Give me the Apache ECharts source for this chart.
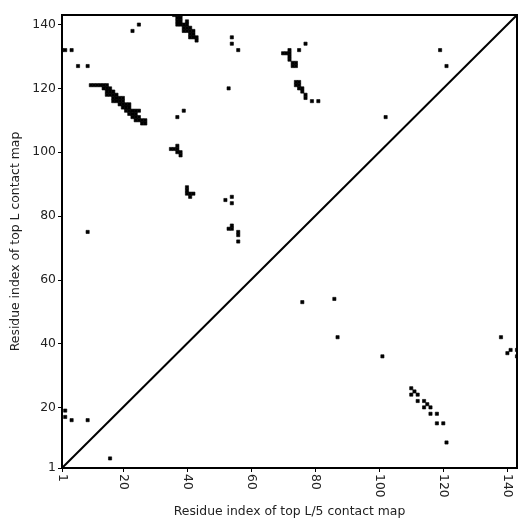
<!DOCTYPE html>
<html>
<head>
<meta charset="utf-8">
<script src="https://cdn.jsdelivr.net/npm/echarts@6/dist/echarts.min.js"></script>
<style>html,body{margin:0;padding:0;background:#fff}#c{width:531px;height:531px}</style>
</head>
<body>
<div id="c"></div>
<script>
// Axis extent and ticks
const axisMin = 1;
const axisMax = 143;
const tickValues = [1, 20, 40, 60, 80, 100, 120, 140];
const diagonal = [[1, 1], [143, 143]];

// Top L contacts (upper-left triangle), [x, y]
const topLContacts = [
  [1,132],[2,132],[4,132],[6,127],[9,127],
  [10,121],[11,121],[12,121],[13,121],[14,121],[15,121],
  [14,120],[15,120],[16,120],
  [15,119],[16,119],[17,119],
  [15,118],[16,118],[17,118],[18,118],
  [17,117],[18,117],[19,117],[20,117],
  [17,116],[18,116],[19,116],[20,116],
  [19,115],[20,115],[21,115],[22,115],
  [20,114],[21,114],[22,114],
  [21,113],[22,113],[23,113],[24,113],[25,113],
  [22,112],[23,112],[24,112],
  [23,111],[24,111],[25,111],
  [24,110],[25,110],[26,110],[27,110],
  [26,109],[27,109],
  [23,138],[25,140],
  [36,143],[37,143],[38,143],
  [37,142],[38,142],
  [37,141],[38,141],[40,141],
  [37,140],[38,140],[39,140],[40,140],
  [39,139],[40,139],[41,139],
  [39,138],[40,138],[41,138],[42,138],
  [41,137],[42,137],
  [41,136],[42,136],[43,136],
  [43,135],
  [54,136],[54,134],[56,132],[53,120],[39,113],[37,111],
  [37,102],[35,101],[36,101],[37,101],[37,100],[38,100],[38,99],
  [40,89],[40,88],[40,87],[41,87],[42,87],[41,86],
  [52,85],[54,86],[54,84],
  [53,76],[54,77],[54,76],[56,75],[56,74],[56,72],
  [9,75],
  [70,131],[71,131],[72,132],[72,131],[72,130],[72,129],[73,128],[74,128],[73,127],[74,127],
  [75,132],[77,134],
  [74,122],[75,122],[74,121],[75,121],[75,120],[76,120],[76,119],[77,118],[77,117],
  [79,116],[81,116],
  [102,111],[119,132],[121,127],
  [2,19],[2,17],[4,16],[9,16]
];

// Top L/5 contacts (lower-right triangle), [x, y]
const topL5Contacts = [
  [16,4],[76,53],[86,54],[87,42],[101,36],
  [110,26],[111,25],[110,24],[112,24],[112,22],[114,22],[115,21],[114,20],[116,20],
  [116,18],[118,18],[118,15],[120,15],[121,9],
  [138,42],[140,37],[141,38],[143,38],[143,36]
];

const xName = 'Residue index of top L/5 contact map';
const yName = 'Residue index of top L contact map';

const chart = echarts.init(document.getElementById('c'), null, {renderer: 'canvas'});
const FONT = 'DejaVu Sans';
const textColor = '#222';

function cellRender(params, api) {
  const p = api.coord([api.value(0) - 0.5, api.value(1) + 0.5]);
  const s = api.size([1, 1]);
  return {type: 'rect', shape: {x: p[0], y: p[1], width: s[0], height: s[1]},
          style: {fill: '#000', stroke: '#000', lineWidth: 0.6}};
}

function axisCommon() {
  return {
    type: 'value', min: axisMin, max: axisMax,
    axisLine: {show: true, onZero: false, lineStyle: {color: '#000', width: 2}},
    axisTick: {show: true, customValues: tickValues, length: 4, lineStyle: {color: '#000', width: 1}},
    splitLine: {show: false},
    nameLocation: 'middle',
    nameTextStyle: {fontFamily: FONT, fontSize: 12.4, color: textColor}
  };
}

const xAxis = Object.assign(axisCommon(), {
  name: xName, nameGap: 36,
  axisLabel: {customValues: tickValues, rotate: -90, fontFamily: FONT, fontSize: 12.4, color: textColor, margin: 6}
});
const yAxis = Object.assign(axisCommon(), {
  name: yName, nameGap: 27,
  axisLabel: {customValues: tickValues, fontFamily: FONT, fontSize: 12.4, color: textColor, margin: 6}
});

chart.setOption({
  animation: false,
  backgroundColor: '#fff',
  grid: {left: 62, right: 14, top: 15, bottom: 63, show: true, borderColor: '#000', borderWidth: 2, backgroundColor: 'transparent'},
  xAxis: xAxis,
  yAxis: yAxis,
  series: [
    {type: 'custom', name: 'top L', data: topLContacts, renderItem: cellRender, clip: true, silent: true},
    {type: 'custom', name: 'top L/5', data: topL5Contacts, renderItem: cellRender, clip: true, silent: true},
    {type: 'line', data: diagonal, symbol: 'none', lineStyle: {color: '#000', width: 2}, silent: true}
  ]
});
</script>
</body>
</html>
